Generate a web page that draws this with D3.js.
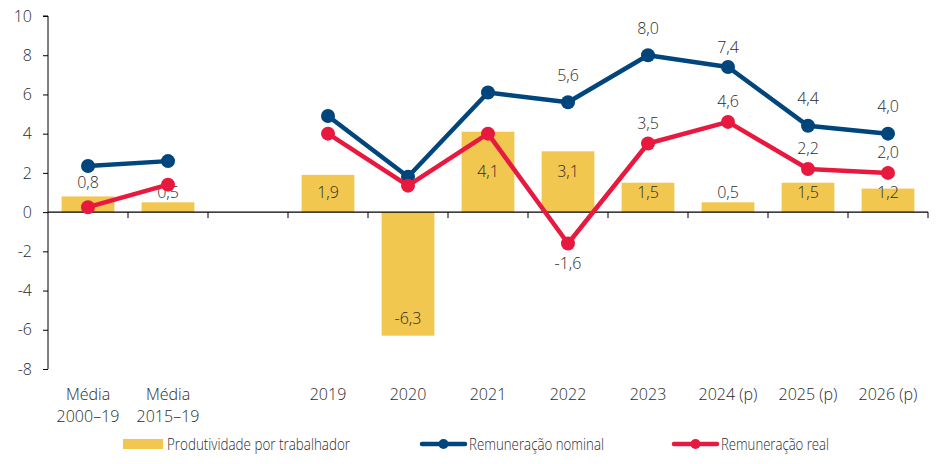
<!DOCTYPE html>
<html><head><meta charset="utf-8">
<script src="https://cdn.jsdelivr.net/npm/d3@7"></script>
<style>
body{margin:0;background:#fff;}
text{font-family:"Open Sans",sans-serif;fill:#2b2b2b;font-weight:300;}
</style></head>
<body><svg id="c" width="945" height="464"></svg>
<script>
const categories = [["Média","2000–19"],["Média","2015–19"],[""],["2019"],["2020"],["2021"],["2022"],["2023"],["2024 (p)"],["2025 (p)"],["2026 (p)"]];
const produtividade = [0.8, 0.5, null, 1.9, -6.3, 4.1, 3.1, 1.5, 0.5, 1.5, 1.2];
const nominal = [2.35, 2.6, null, 4.9, 1.8, 6.1, 5.6, 8.0, 7.4, 4.4, 4.0];
const real = [0.25, 1.4, null, 4.0, 1.35, 4.0, -1.6, 3.5, 4.6, 2.2, 2.0];
const nominalLabelShown = [false,false,false,false,false,false,true,true,true,true,true];
const realLabelShown = [false,false,false,false,false,false,true,true,true,true,true];
const yTicks = [-8,-6,-4,-2,0,2,4,6,8,10];
const seriesNames = ["Produtividade por trabalhador","Remuneração nominal","Remuneração real"];

const colBar = "#F2C750", colNom = "#00457C", colReal = "#E8193F";
const fmt = v => v.toFixed(1).replace(".", ",");

const svg = d3.select("#c");
const L = 48, R = 928, T = 16, B = 369;
const idx = categories.map((d,i)=>i);
const x = d3.scaleBand().domain(idx).range([L,R]).paddingInner(0.34).paddingOuter(0.17);
const xc = i => x(i) + x.bandwidth()/2;
const y = d3.scaleLinear().domain([-8,10]).range([B,T]);

// bars
svg.append("g").selectAll("rect").data(idx.filter(i=>produtividade[i]!=null)).join("rect")
  .attr("x", i=>x(i)).attr("width", x.bandwidth())
  .attr("y", i=>y(Math.max(0,produtividade[i])))
  .attr("height", i=>Math.abs(y(produtividade[i])-y(0)))
  .attr("fill", colBar);

// axes
const yAxis = svg.append("g").attr("transform",`translate(${L},0)`)
  .call(d3.axisLeft(y).tickValues(yTicks).tickSize(5).tickPadding(11).tickFormat(d=>d));
yAxis.select(".domain").attr("stroke","#000").attr("d",`M-5,${T}H0V${B}`);
yAxis.selectAll(".tick line").attr("stroke","#000");
yAxis.selectAll(".tick text").attr("font-size",16).attr("fill","#2b2b2b").attr("font-family","Open Sans").attr("font-weight",300);

const zero = svg.append("g");
zero.append("line").attr("x1",L).attr("x2",R).attr("y1",y(0)).attr("y2",y(0)).attr("stroke","#000").attr("stroke-width",1.2);
zero.selectAll("line.t").data(idx.map(i=>x(i)+x.bandwidth()+x.step()*x.paddingInner()/2)).join("line").attr("class","t")
  .attr("x1",d=>d).attr("x2",d=>d).attr("y1",y(0)).attr("y2",y(0)+6).attr("stroke","#000");

// x labels
const xl = svg.append("g");
idx.forEach(i=>{
  categories[i].forEach((s,k)=>{
    xl.append("text").attr("x",xc(i)).attr("y",400+k*22).attr("text-anchor","middle").attr("font-size",16).text(s);
  });
});

// bar labels
function barLabelVal(i){
  const v = produtividade[i];
  if (v < 0) return v + 0.9;
  if (i === 0) return 1.5;
  if (v >= 3) return 2.05;
  return 1.0;
}
svg.append("g").selectAll("text").data(idx.filter(i=>produtividade[i]!=null)).join("text")
  .attr("x", i=>xc(i)).attr("y", i=>y(barLabelVal(i))+5.5)
  .attr("text-anchor","middle").attr("font-size",16).text(i=>fmt(produtividade[i]));

// lines
const line = d3.line().defined(d=>d.v!=null).x(d=>xc(d.i)).y(d=>y(d.v));
function drawSeries(vals, col, shown, offFn){
  const data = vals.map((v,i)=>({i,v}));
  svg.append("path").datum(data).attr("d",line).attr("fill","none").attr("stroke",col).attr("stroke-width",4.5).attr("stroke-linejoin","round");
  svg.append("g").selectAll("circle").data(data.filter(d=>d.v!=null)).join("circle")
    .attr("cx",d=>xc(d.i)).attr("cy",d=>y(d.v)).attr("r",7).attr("fill",col);
  svg.append("g").selectAll("text").data(data.filter(d=>d.v!=null && shown[d.i])).join("text")
    .attr("x",d=>xc(d.i)).attr("y",d=>y(d.v)+offFn(d)+5.5).attr("text-anchor","middle").attr("font-size",16).text(d=>fmt(d.v));
}
drawSeries(nominal, colNom, nominalLabelShown, d=> d.v>7 && d.v<7.5 ? -19 : -27);
drawSeries(real, colReal, realLabelShown, d=> d.v<0 ? 20 : -20);

// legend
const lg = svg.append("g");
lg.append("rect").attr("x",123).attr("y",439).attr("width",40).attr("height",10).attr("fill",colBar);
lg.append("text").attr("x",167).attr("y",449.5).attr("font-size",16).attr("textLength",183).attr("lengthAdjust","spacingAndGlyphs").text(seriesNames[0]);
[[422,colNom,seriesNames[1],135],[674,colReal,seriesNames[2],108]].forEach(([lx,c,t,w])=>{
  lg.append("line").attr("x1",lx).attr("x2",lx+43).attr("y1",444).attr("y2",444).attr("stroke",c).attr("stroke-width",4.5).attr("stroke-linecap","round");
  lg.append("circle").attr("cx",lx+21.5).attr("cy",444).attr("r",5).attr("fill",c);
  lg.append("text").attr("x",lx+47).attr("y",449.5).attr("font-size",16).attr("textLength",w).attr("lengthAdjust","spacingAndGlyphs").text(t);
});
</script></body></html>
